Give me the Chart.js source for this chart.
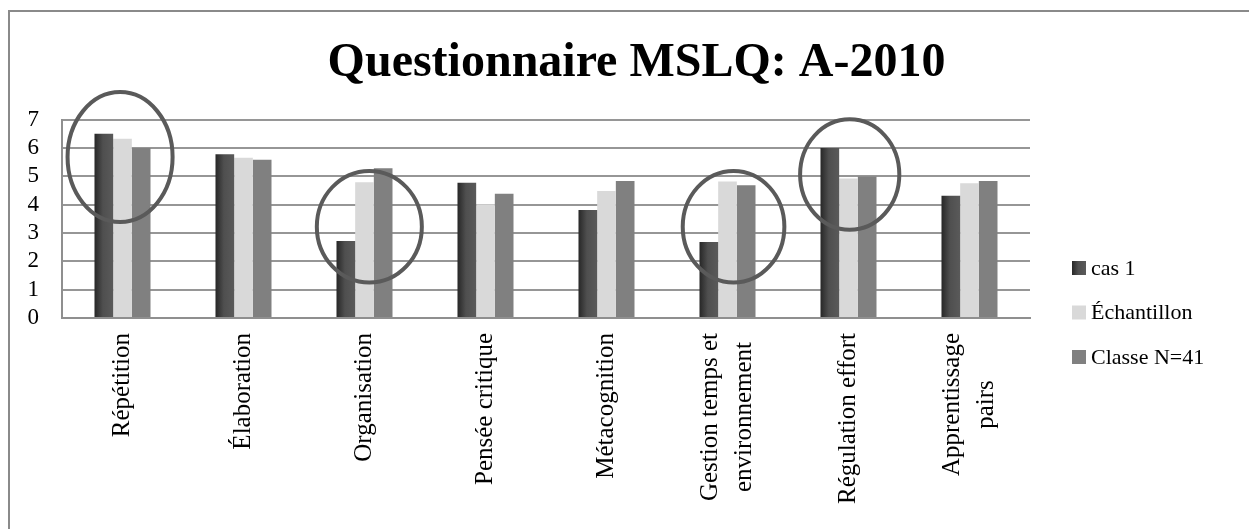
<!DOCTYPE html>
<html lang="fr">
<head>
<meta charset="utf-8">
<title>Questionnaire MSLQ: A-2010</title>
<script src="https://cdn.jsdelivr.net/npm/chart.js@4.4.1/dist/chart.umd.min.js"></script>
<style>
  html, body { margin: 0; padding: 0; background: #ffffff; }
  #wrap { width: 1249px; height: 529px; position: relative; }
  canvas { display: block; }
</style>
</head>
<body>
<div id="wrap"><canvas id="chart" width="1249" height="529"></canvas></div>
<script>
// Sous-échelles du MSLQ (les libellés longs sont coupés sur deux lignes)
const categories = [
  'Répétition',
  'Élaboration',
  'Organisation',
  'Pensée critique',
  'Métacognition',
  ['Gestion temps et', 'environnement'],
  'Régulation effort',
  ['Apprentissage', 'pairs']
];

const seriesNames = ['cas 1', 'Échantillon', 'Classe N=41'];

// Scores moyens (échelle de 1 à 7)
const cas1        = [6.50, 5.78, 2.72, 4.77, 3.81, 2.68, 6.00, 4.31];
const echantillon = [6.32, 5.65, 4.79, 4.01, 4.48, 4.82, 4.92, 4.75];
const classe      = [6.00, 5.58, 5.28, 4.38, 4.83, 4.68, 4.99, 4.83];

const yTicks = [0, 1, 2, 3, 4, 5, 6, 7];

// Ellipses de mise en évidence : centre (indice de catégorie, score) et demi-axes
const highlightIndex  = [-0.02, 2.04, 5.05, 6.01];
const highlightValue  = [5.68, 3.22, 3.22, 5.06];
const highlightRadiusX = [0.434, 0.434, 0.42, 0.41];
const highlightRadiusY = [2.29, 1.97, 1.97, 1.95];

const SERIF = "'Liberation Serif', 'Times New Roman', 'DejaVu Serif', serif";
const CAT_PCT = 0.463;

// Remplissage en dégradé horizontal des barres foncées
function darkStops(g) {
  g.addColorStop(0, '#272727');
  g.addColorStop(0.45, '#4f4f4f');
  g.addColorStop(1, '#5a5a5a');
  return g;
}
function darkFill(ctx) {
  const chart = ctx.chart;
  const xs = chart.scales && chart.scales.x;
  if (ctx.type !== 'data' || !xs || !chart.chartArea) return '#444444';
  const catW = xs.width / categories.length;
  const groupW = catW * CAT_PCT;
  const barW = groupW / 3;
  const left = xs.getPixelForValue(ctx.dataIndex) - groupW / 2 + ctx.datasetIndex * barW;
  return darkStops(chart.ctx.createLinearGradient(left, 0, left + barW, 0));
}

// Cadre gris autour de la figure
const framePlugin = {
  id: 'frame',
  beforeDraw(chart) {
    const c = chart.ctx;
    c.save();
    c.strokeStyle = '#8a8a8a';
    c.lineWidth = 2;
    c.beginPath();
    c.moveTo(9, chart.height);
    c.lineTo(9, 11);
    c.lineTo(chart.width, 11);
    c.stroke();
    c.restore();
  }
};

// Libellés des catégories, tournés de 90° et centrés ligne par ligne
const categoryLabelPlugin = {
  id: 'categoryLabels',
  afterDraw(chart) {
    const xs = chart.scales.x;
    const c = chart.ctx;
    const lineH = 34;
    c.save();
    c.font = '25px ' + SERIF;
    c.fillStyle = '#000000';
    c.textAlign = 'center';
    c.textBaseline = 'middle';
    categories.forEach((lab, i) => {
      const lines = Array.isArray(lab) ? lab : [lab];
      const maxW = Math.max(...lines.map(t => c.measureText(t).width));
      const x = xs.getPixelForValue(i);
      c.save();
      c.translate(x, xs.top + 15);
      c.rotate(-Math.PI / 2);
      lines.forEach((t, k) => {
        c.fillText(t, -maxW / 2, (k - (lines.length - 1) / 2) * lineH);
      });
      c.restore();
    });
    c.restore();
  }
};

// Ellipses grises autour des groupes commentés
const highlightPlugin = {
  id: 'highlights',
  afterDatasetsDraw(chart) {
    const xs = chart.scales.x, ys = chart.scales.y;
    const c = chart.ctx;
    const catW = xs.width / categories.length;
    const unit = Math.abs(ys.getPixelForValue(0) - ys.getPixelForValue(1));
    c.save();
    c.strokeStyle = '#5a5a5a';
    c.lineWidth = 4;
    highlightIndex.forEach((idx, k) => {
      c.beginPath();
      c.ellipse(xs.getPixelForValue(idx), ys.getPixelForValue(highlightValue[k]),
                highlightRadiusX[k] * catW, highlightRadiusY[k] * unit, 0, 0, Math.PI * 2);
      c.stroke();
    });
    c.restore();
  }
};

// Légende à droite du graphique
const legendPlugin = {
  id: 'sideLegend',
  afterDraw(chart) {
    const c = chart.ctx;
    const area = chart.chartArea;
    const boxX = area.right + 42;
    const firstY = 268;
    const step = 44.5;
    c.save();
    c.font = '22px ' + SERIF;
    c.textBaseline = 'middle';
    c.textAlign = 'left';
    chart.data.datasets.forEach((ds, i) => {
      const cy = firstY + i * step;
      if (i === 0) {
        c.fillStyle = darkStops(c.createLinearGradient(boxX, 0, boxX + 14, 0));
      } else {
        c.fillStyle = ds.backgroundColor;
      }
      c.fillRect(boxX, cy - 7, 14, 14);
      c.fillStyle = '#000000';
      c.fillText(ds.label, boxX + 19, cy + 1);
    });
    c.restore();
  }
};

new Chart(document.getElementById('chart'), {
  type: 'bar',
  data: {
    labels: categories,
    datasets: [
      { label: seriesNames[0], data: cas1, backgroundColor: darkFill },
      { label: seriesNames[1], data: echantillon, backgroundColor: '#d9d9d9' },
      { label: seriesNames[2], data: classe, backgroundColor: '#808080' }
    ]
  },
  options: {
    responsive: false,
    devicePixelRatio: 1,
    animation: false,
    layout: { padding: { left: 24, right: 0, top: 0, bottom: 211 } },
    datasets: {
      bar: { categoryPercentage: CAT_PCT, barPercentage: 1.0, borderWidth: 0 }
    },
    plugins: {
      legend: { display: false },
      tooltip: { enabled: false },
      title: {
        display: true,
        text: 'Questionnaire MSLQ: A-2010',
        color: '#000000',
        font: { family: SERIF, size: 48, weight: 'bold', lineHeight: 1.2 },
        padding: { top: 35, bottom: 27 }
      }
    },
    scales: {
      x: {
        type: 'category',
        grid: { display: false, drawTicks: false },
        border: { display: true, color: '#8f8f8f', width: 2 },
        ticks: { display: false }
      },
      y: {
        min: 0,
        max: 7,
        afterBuildTicks(scale) { scale.ticks = yTicks.map(v => ({ value: v })); },
        afterFit(scale) { scale.width = 38; },
        grid: { color: '#969696', lineWidth: 2, drawTicks: false },
        border: { display: true, color: '#8f8f8f', width: 2 },
        ticks: {
          autoSkip: false,
          padding: 23,
          color: '#000000',
          font: { family: SERIF, size: 23 },
          callback: v => String(v)
        }
      },
      legendSpace: {
        type: 'linear',
        position: 'right',
        display: true,
        grid: { display: false, drawTicks: false },
        border: { display: false },
        ticks: { display: false },
        afterFit(scale) { scale.width = 219; }
      }
    }
  },
  plugins: [framePlugin, highlightPlugin, categoryLabelPlugin, legendPlugin]
});
</script>
</body>
</html>
